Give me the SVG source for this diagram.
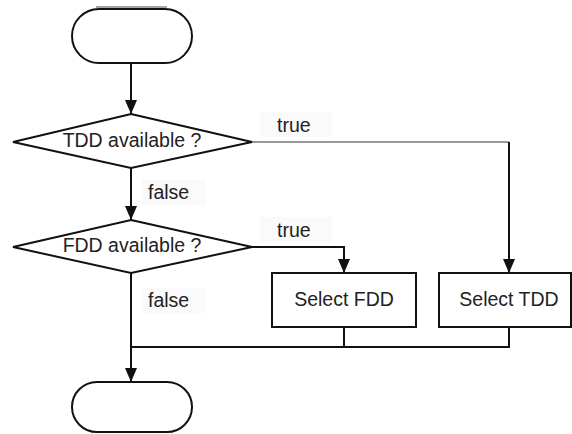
<svg xmlns="http://www.w3.org/2000/svg" width="572" height="434" viewBox="0 0 572 434">
  <style>
    .shape { fill: #ffffff; stroke: #111111; stroke-width: 2; }
    .flow { fill: none; stroke: #111111; stroke-width: 2; }
    .thin { fill: none; stroke: #777777; stroke-width: 1.5; }
    .txt { font-family: "Liberation Sans", Arial, sans-serif; font-size: 19.5px; fill: #222222; }
    .lbl-bg { fill: #fafafa; }
  </style>
  <defs>
    <marker id="head" viewBox="0 0 14 12" refX="14" refY="6" markerWidth="14" markerHeight="12" orient="auto" markerUnits="userSpaceOnUse">
      <path d="M0,0 L14,6 L0,12 Z" fill="#111111"/>
    </marker>
  </defs>

  <rect width="572" height="434" fill="#ffffff"/>

  <!-- connectors -->
  <g id="connectors">
    <line class="flow" x1="131" y1="63" x2="131" y2="114" marker-end="url(#head)"/>
    <line class="flow" x1="131" y1="168" x2="131" y2="220" marker-end="url(#head)"/>
    <line class="flow" x1="131" y1="273" x2="131" y2="382" marker-end="url(#head)"/>
    <polyline class="thin" points="252,142 509,142"/>
    <line class="flow" x1="509" y1="142" x2="509" y2="273" marker-end="url(#head)"/>
    <polyline class="flow" points="252,247 344,247 344,273" marker-end="url(#head)"/>
    <polyline class="flow" points="344,327 344,347 131,347"/>
    <polyline class="flow" points="509,327 509,347 344,347"/>
  </g>

  <!-- edge labels -->
  <g id="labels">
    <rect class="lbl-bg" x="260" y="112" width="72" height="25"/>
    <text class="txt" x="277" y="132">true</text>
    <rect class="lbl-bg" x="260" y="217" width="72" height="25"/>
    <text class="txt" x="277" y="237">true</text>
    <rect class="lbl-bg" x="142" y="180" width="64" height="25"/>
    <text class="txt" x="148" y="199">false</text>
    <rect class="lbl-bg" x="142" y="288" width="64" height="25"/>
    <text class="txt" x="148" y="307">false</text>
  </g>

  <g id="start">
    <line x1="96" y1="7" x2="167" y2="7" stroke="#888888" stroke-width="1.5"/>
    <rect class="shape" x="72" y="9" width="120" height="54" rx="27" ry="27"/>
  </g>

  <g id="tdd-check">
    <polygon class="shape" points="131,114 252,142 131,168 13,142"/>
    <text class="txt" x="132" y="147" text-anchor="middle">TDD available ?</text>
  </g>

  <g id="fdd-check">
    <polygon class="shape" points="131,220 252,247 131,273 13,247"/>
    <text class="txt" x="132" y="252" text-anchor="middle">FDD available ?</text>
  </g>

  <g id="select-fdd">
    <rect class="shape" x="272" y="273" width="144" height="54"/>
    <text class="txt" x="344" y="306" text-anchor="middle">Select FDD</text>
  </g>

  <g id="select-tdd">
    <rect class="shape" x="439" y="273" width="132" height="54"/>
    <text class="txt" x="509" y="306" text-anchor="middle">Select TDD</text>
  </g>

  <g id="end">
    <rect class="shape" x="72" y="382" width="120" height="50" rx="25" ry="25"/>
  </g>
</svg>
